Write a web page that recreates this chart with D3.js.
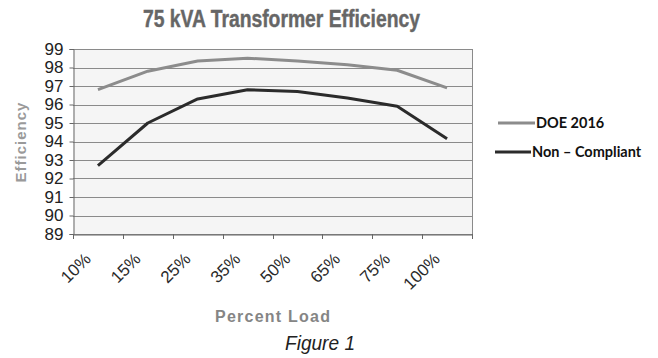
<!DOCTYPE html>
<html>
<head>
<meta charset="utf-8">
<script src="https://cdn.jsdelivr.net/npm/d3@7/dist/d3.min.js"></script>
<style>
  html, body { margin: 0; padding: 0; background: #fff; }
  svg { display: block; }
</style>
</head>
<body>
<svg id="chart" width="658" height="358"></svg>
<script>
// Load levels (categories) and efficiency (%) for each transformer design
const loadLevels = ["10%", "15%", "25%", "35%", "50%", "65%", "75%", "100%"];
const doe2016 = [96.8, 97.8, 98.35, 98.5, 98.35, 98.15, 97.85, 96.9];
const nonCompliant = [92.7, 95.0, 96.3, 96.8, 96.7, 96.35, 95.9, 94.15];
const yTicks = [89, 90, 91, 92, 93, 94, 95, 96, 97, 98, 99];

const series = [
  { name: "DOE 2016", values: doe2016, color: "#8c8c8c" },
  { name: "Non \u2013 Compliant", values: nonCompliant, color: "#2b2b2b" }
];

const svg = d3.select("#chart");
const plot = { left: 73, right: 472, top: 49, bottom: 234 };

const x = d3.scaleBand().domain(loadLevels).range([plot.left, plot.right]);
const y = d3.scaleLinear().domain([89, 99]).range([plot.bottom, plot.top]);

// Plot background
svg.append("rect")
  .attr("x", plot.left).attr("y", plot.top)
  .attr("width", plot.right - plot.left).attr("height", plot.bottom - plot.top)
  .attr("fill", "#f5f5f5");

// Horizontal gridlines
svg.append("g")
  .selectAll("line")
  .data(yTicks)
  .join("line")
  .attr("x1", plot.left).attr("x2", plot.right)
  .attr("y1", d => Math.round(y(d)) + 0.5).attr("y2", d => Math.round(y(d)) + 0.5)
  .attr("stroke", "#8a8a8a").attr("stroke-width", 1);

// Plot frame (right edge)
svg.append("line")
  .attr("x1", plot.right + 0.5).attr("x2", plot.right + 0.5)
  .attr("y1", plot.top).attr("y2", plot.bottom)
  .attr("stroke", "#8a8a8a");

// Y axis
const yAxis = svg.append("g")
  .attr("transform", `translate(${plot.left + 0.5},0)`)
  .call(d3.axisLeft(y).tickValues(yTicks).tickSize(4).tickFormat(d3.format("d")));
yAxis.select(".domain").attr("stroke", "#666");
yAxis.selectAll(".tick line").attr("stroke", "#666");
yAxis.selectAll(".tick text")
  .attr("x", -10)
  .attr("fill", "#222")
  .style("font-family", "Liberation Sans, Arial, sans-serif")
  .style("font-size", "17px");

// X axis: ticks on category boundaries
const xAxis = svg.append("g")
  .attr("transform", `translate(0,${plot.bottom + 0.5})`)
  .call(d3.axisBottom(x).tickSize(0).tickFormat(""));
xAxis.select(".domain").attr("stroke", "#666");
const bounds = loadLevels.map(d => x(d)).concat([x.range()[1]]);
svg.append("g")
  .selectAll("line")
  .data(bounds)
  .join("line")
  .attr("x1", d => Math.round(d) + 0.5).attr("x2", d => Math.round(d) + 0.5)
  .attr("y1", plot.bottom).attr("y2", plot.bottom + 5)
  .attr("stroke", "#666");

// Rotated category labels
svg.append("g")
  .selectAll("text")
  .data(loadLevels)
  .join("text")
  .attr("transform", d => `translate(${x(d) + x.bandwidth() / 2 - 6},${plot.bottom + 26}) rotate(-45)`)
  .attr("text-anchor", "end")
  .attr("fill", "#2a2a2a")
  .style("font-family", "Liberation Sans, Arial, sans-serif")
  .style("font-size", "17px")
  .text(d => d);

// Series lines
const line = d3.line()
  .x((d, i) => x(loadLevels[i]) + x.bandwidth() / 2)
  .y(d => y(d));
svg.append("g")
  .selectAll("path")
  .data(series)
  .join("path")
  .attr("d", s => line(s.values))
  .attr("fill", "none")
  .attr("stroke", s => s.color)
  .attr("stroke-width", 3)
  .attr("stroke-linejoin", "round");

// Title (condensed heavy face)
svg.append("text")
  .attr("x", 143).attr("y", 27)
  .attr("textLength", 277)
  .attr("lengthAdjust", "spacingAndGlyphs")
  .attr("fill", "#666")
  .attr("stroke", "#666").attr("stroke-width", 0.4)
  .style("font-family", "Liberation Sans, Arial, sans-serif")
  .style("font-weight", "bold")
  .style("font-size", "23px")
  .text("75 kVA Transformer Efficiency");

// Axis titles
svg.append("text")
  .attr("transform", "translate(26,142) rotate(-90)")
  .attr("text-anchor", "middle")
  .attr("fill", "#9a9a9a")
  .style("font-family", "Liberation Sans, Arial, sans-serif")
  .style("font-weight", "bold")
  .style("font-size", "15px")
  .style("letter-spacing", "1px")
  .text("Efficiency");

svg.append("text")
  .attr("x", 215).attr("y", 322)
  .attr("textLength", 115)
  .attr("lengthAdjust", "spacing")
  .attr("fill", "#858585")
  .style("font-family", "Liberation Sans, Arial, sans-serif")
  .style("font-weight", "bold")
  .style("font-size", "16px")
  .text("Percent Load");

// Caption
svg.append("text")
  .attr("x", 285).attr("y", 350)
  .attr("textLength", 70)
  .attr("lengthAdjust", "spacingAndGlyphs")
  .attr("fill", "#222")
  .style("font-family", "Liberation Sans, Arial, sans-serif")
  .style("font-style", "italic")
  .style("font-size", "20px")
  .text("Figure 1");

// Legend
const legendRows = [
  { y: 123, x1: 498, x2: 535 },
  { y: 152, x1: 495, x2: 531 }
];
const legend = svg.append("g")
  .selectAll("g")
  .data(series)
  .join("g");
legend.append("line")
  .attr("x1", (d, i) => legendRows[i].x1).attr("x2", (d, i) => legendRows[i].x2)
  .attr("y1", (d, i) => legendRows[i].y).attr("y2", (d, i) => legendRows[i].y)
  .attr("stroke", d => d.color).attr("stroke-width", 3);
legend.append("text")
  .attr("x", (d, i) => legendRows[i].x2 + 1)
  .attr("y", (d, i) => legendRows[i].y + 5)
  .attr("fill", "#111")
  .style("font-family", "Lato, Open Sans, sans-serif")
  .style("font-weight", "bold")
  .style("font-size", "14.5px")
  .text(d => d.name);
</script>
</body>
</html>
